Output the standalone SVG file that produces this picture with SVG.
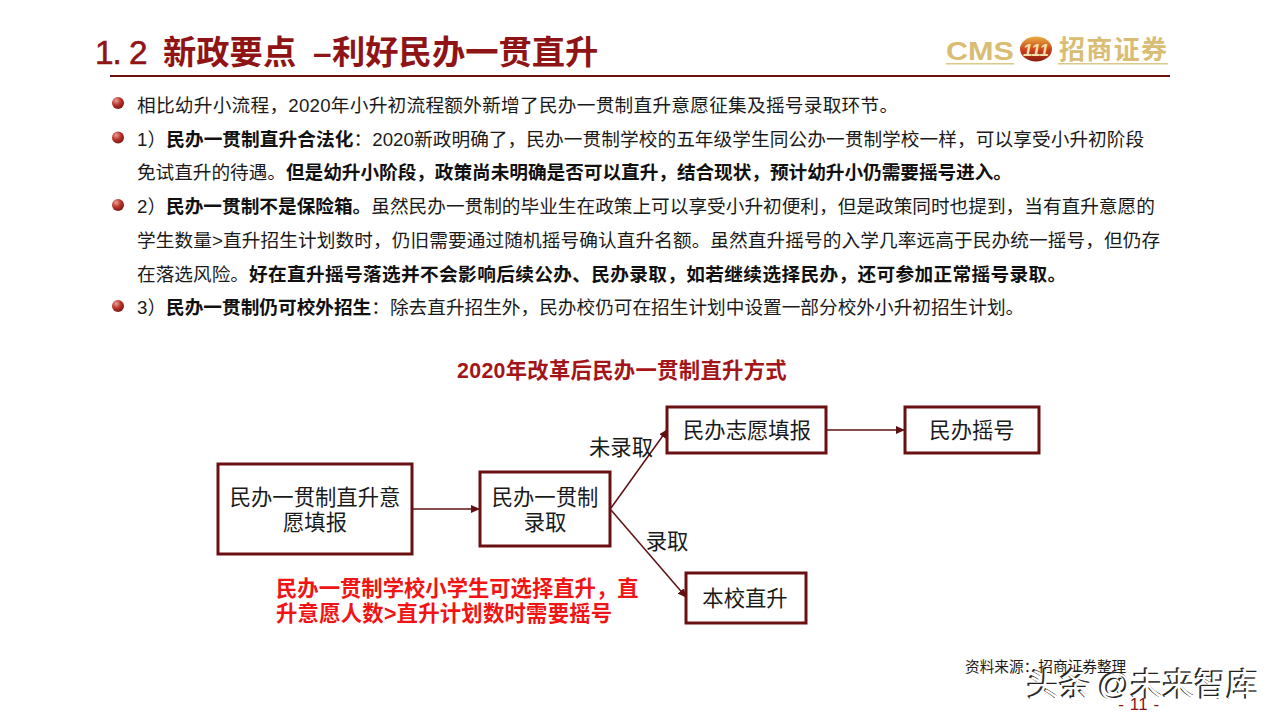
<svg xmlns="http://www.w3.org/2000/svg" width="1280" height="720" viewBox="0 0 1280 720">
<style>
text{font-family:"Liberation Sans","Noto Sans CJK SC",sans-serif;fill:#1a1a1a}
.b{font-size:18.67px}
.s{font-weight:700;fill:#111}
.n{fill:#fff;stroke:#6a1013;stroke-width:3}
.l{font-size:21.33px;text-anchor:middle}
.c{stroke:#5f1012;stroke-width:1.5;fill:none;marker-end:url(#a)}
.r{font-size:21.33px;font-weight:700;fill:#f01414}
.t{font-size:33.3px;font-weight:700;fill:#8f1416}
.w{font-size:32px}
.d{fill:#222;stroke:#222;stroke-width:.7}
.h{fill:#fff}
.g{font-weight:700;fill:#d9bd74}
</style>
<defs>
<marker id="a" markerUnits="userSpaceOnUse" markerWidth="9" markerHeight="8" refX="8" refY="4" orient="auto"><path d="M0 0L9 4L0 8Z" fill="#5f1012"/></marker>
<radialGradient id="g" cx=".35" cy=".3" r=".8"><stop offset="0" stop-color="#e8a090"/><stop offset=".5" stop-color="#b8302a"/><stop offset="1" stop-color="#6e1510"/></radialGradient>
<linearGradient id="o" x1="0" y1="0" x2="0" y2="1"><stop offset="0" stop-color="#e8b040"/><stop offset=".55" stop-color="#c8401c"/><stop offset="1" stop-color="#8a1c10"/></linearGradient>
</defs>
<rect width="1280" height="720" fill="#fff"/>
<g id="header">
<text class="t" x="95" y="64" style="font-weight:400" stroke="#8f1416" stroke-width=".6" letter-spacing="-1" xml:space="preserve">1. 2</text>
<text class="t" x="163" y="64">新政要点</text>
<text class="t" x="313" y="64">–</text>
<text class="t" x="332" y="64">利好民办一贯直升</text>
<rect x="110" y="75" width="1060" height="2" fill="#6d1012"/>
</g>
<g id="logo">
<text class="g" x="946" y="60" font-size="25" textLength="68" lengthAdjust="spacingAndGlyphs">CMS</text>
<rect x="946" y="63" width="68" height="1.500" fill="#ddc88c"/>
<ellipse cx="1036" cy="49" rx="16" ry="12.500" fill="url(#o)"/>
<text x="1036" y="55.500" font-size="17" font-weight="700" font-style="italic" text-anchor="middle" style="fill:#f3dfa8">111</text>
<text class="g" x="1059" y="59" font-size="26" textLength="108" lengthAdjust="spacing">招商证券</text>
<rect x="1058" y="63" width="110" height="1.500" fill="#ddc88c"/>
</g>
<g id="bullets">
<circle cx="118" cy="103" r="6" fill="url(#g)"/>
<circle cx="118" cy="137.500" r="6" fill="url(#g)"/>
<circle cx="118" cy="205" r="6" fill="url(#g)"/>
<circle cx="118" cy="306" r="6" fill="url(#g)"/>
<text class="b" x="137" y="112" letter-spacing=".26">相比幼升小流程，2020年小升初流程额外新增了民办一贯制直升意愿征集及摇号录取环节。</text>
<text class="b" x="137" y="146" letter-spacing=".07">1）<tspan class="s">民办一贯制直升合法化</tspan>：2020新政明确了，民办一贯制学校的五年级学生同公办一贯制学校一样，可以享受小升初阶段</text>
<text class="b" x="137" y="179" letter-spacing="-.04">免试直升的待遇。<tspan class="s">但是幼升小阶段，政策尚未明确是否可以直升，结合现状，预计幼升小仍需要摇号进入。</tspan></text>
<text class="b" x="137" y="213">2）<tspan class="s">民办一贯制不是保险箱。</tspan>虽然民办一贯制的毕业生在政策上可以享受小升初便利，但是政策同时也提到，当有直升意愿的</text>
<text class="b" x="137" y="247" letter-spacing=".09">学生数量&gt;直升招生计划数时，仍旧需要通过随机摇号确认直升名额。虽然直升摇号的入学几率远高于民办统一摇号，但仍存</text>
<text class="b" x="137" y="281">在落选风险。<tspan class="s" letter-spacing=".36">好在直升摇号落选并不会影响后续公办、民办录取，如若继续选择民办，还可参加正常摇号录取。</tspan></text>
<text class="b" x="137" y="314">3）<tspan class="s">民办一贯制仍可校外招生</tspan>：除去直升招生外，民办校仍可在招生计划中设置一部分校外小升初招生计划。</text>
</g>
<text id="chart-title" x="622" y="378" font-size="21.33" font-weight="700" text-anchor="middle" letter-spacing=".3" style="fill:#a31519">2020年改革后民办一贯制直升方式</text>
<g id="connectors">
<path class="c" d="M413 509H479"/>
<path class="c" d="M611 508L667 430"/>
<path class="c" d="M611 510L686 597"/>
<path class="c" d="M827 430H904"/>
</g>
<g id="n1"><rect class="n" x="218" y="464" width="194" height="90"/><text class="l" x="315" y="505">民办一贯制直升意</text><text class="l" x="315" y="530">愿填报</text></g>
<g id="n2"><rect class="n" x="480" y="472" width="130" height="74"/><text class="l" x="545" y="505">民办一贯制</text><text class="l" x="545" y="530">录取</text></g>
<g id="n3"><rect class="n" x="667" y="407" width="159" height="46"/><text class="l" x="747" y="438">民办志愿填报</text></g>
<g id="n4"><rect class="n" x="905" y="407" width="134" height="46"/><text class="l" x="972" y="438">民办摇号</text></g>
<g id="n5"><rect class="n" x="686" y="573" width="120" height="50"/><text class="l" x="745" y="606">本校直升</text></g>
<text class="l" x="621" y="455">未录取</text>
<text class="l" x="667" y="549">录取</text>
<text class="r" x="276" y="596">民办一贯制学校小学生可选择直升，直</text>
<text class="r" x="276" y="621" letter-spacing=".25">升意愿人数&gt;直升计划数时需要摇号</text>
<text id="source" x="965" y="672" font-size="14.670">资料来源：招商证券整理</text>
<g id="watermark">
<text class="w d" x="1026" y="695">头条</text><text class="w d" x="1097" y="695">@未来智库</text>
<text class="w h" x="1027.500" y="695.500">头条</text><text class="w h" x="1098.500" y="695.500">@未来智库</text>
</g>
<text id="page" x="1139" y="710" font-size="17" text-anchor="middle" letter-spacing=".5" style="fill:#8f1416">- 11 -</text>
</svg>
